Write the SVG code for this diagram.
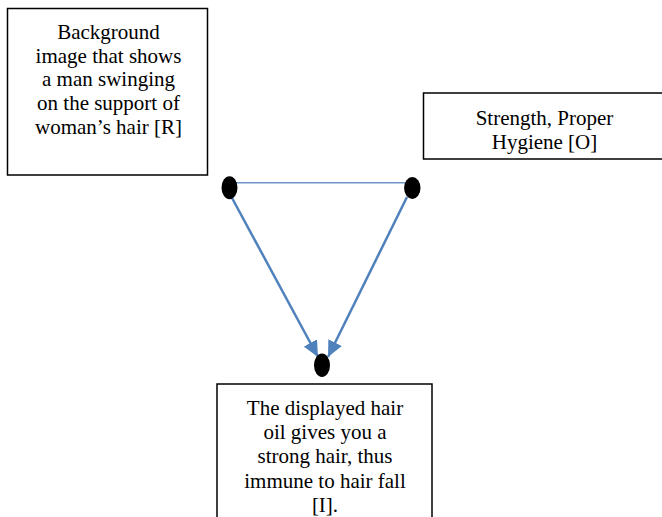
<svg xmlns="http://www.w3.org/2000/svg" width="662" height="517" viewBox="0 0 662 517">
  <style>
    .box { fill: #ffffff; stroke: #000000; stroke-width: 1.5; }
    .lbl { font-family: 'Liberation Serif', 'DejaVu Serif', serif; font-size: 21px; fill: #000000; text-anchor: middle; }
    .dot { fill: #000000; }
    .arrow { stroke: #4f81bd; stroke-width: 2.5; fill: none; }
    .link { stroke: #6f95c9; stroke-width: 1.5; fill: none; }
  </style>
  <defs>
    <marker id="ah" markerUnits="userSpaceOnUse" markerWidth="17" markerHeight="15" refX="16" refY="7.5" orient="auto">
      <path d="M0,0 L16,7.5 L0,15 z" fill="#4f81bd"/>
    </marker>
    <clipPath id="clipO">
      <rect x="424" y="94" width="240" height="64.5"/>
    </clipPath>
  </defs>
  <rect width="662" height="517" fill="#ffffff"/>

  <g id="node-R">
    <rect class="box" x="7.5" y="8.5" width="200" height="166.5"/>
    <text class="lbl" x="108.5" y="39">Background</text>
    <text class="lbl" x="108.5" y="62.7">image that shows</text>
    <text class="lbl" x="108.5" y="86.4">a man swinging</text>
    <text class="lbl" x="108.5" y="110">on the support of</text>
    <text class="lbl" x="108.5" y="133.7">woman’s hair [R]</text>
  </g>

  <g id="node-O">
    <rect class="box" x="423.5" y="93" width="250" height="66"/>
    <g clip-path="url(#clipO)">
      <text class="lbl" x="544.5" y="125">Strength, Proper</text>
      <text class="lbl" x="544.5" y="149">Hygiene [O]</text>
    </g>
  </g>

  <g id="node-I">
    <rect class="box" x="217" y="384" width="215" height="150"/>
    <text class="lbl" x="325" y="415">The displayed hair</text>
    <text class="lbl" x="325" y="439">oil gives you a</text>
    <text class="lbl" x="325" y="463">strong hair, thus</text>
    <text class="lbl" x="325" y="488">immune to hair fall</text>
    <text class="lbl" x="325" y="512">[I].</text>
  </g>

  <g id="connectors">
    <line class="link" x1="229.5" y1="182.7" x2="412" y2="182.7"/>
    <line class="arrow" x1="231.5" y1="197" x2="318" y2="357" marker-end="url(#ah)"/>
    <line class="arrow" x1="407" y1="197" x2="328" y2="357" marker-end="url(#ah)"/>
  </g>

  <g id="dot-left">
    <ellipse class="dot" cx="229.5" cy="187.7" rx="8" ry="11.5"/>
  </g>
  <g id="dot-right">
    <ellipse class="dot" cx="412.3" cy="188" rx="8.2" ry="11"/>
  </g>
  <g id="dot-bottom">
    <ellipse class="dot" cx="322" cy="365.3" rx="8" ry="11.7"/>
  </g>
</svg>
